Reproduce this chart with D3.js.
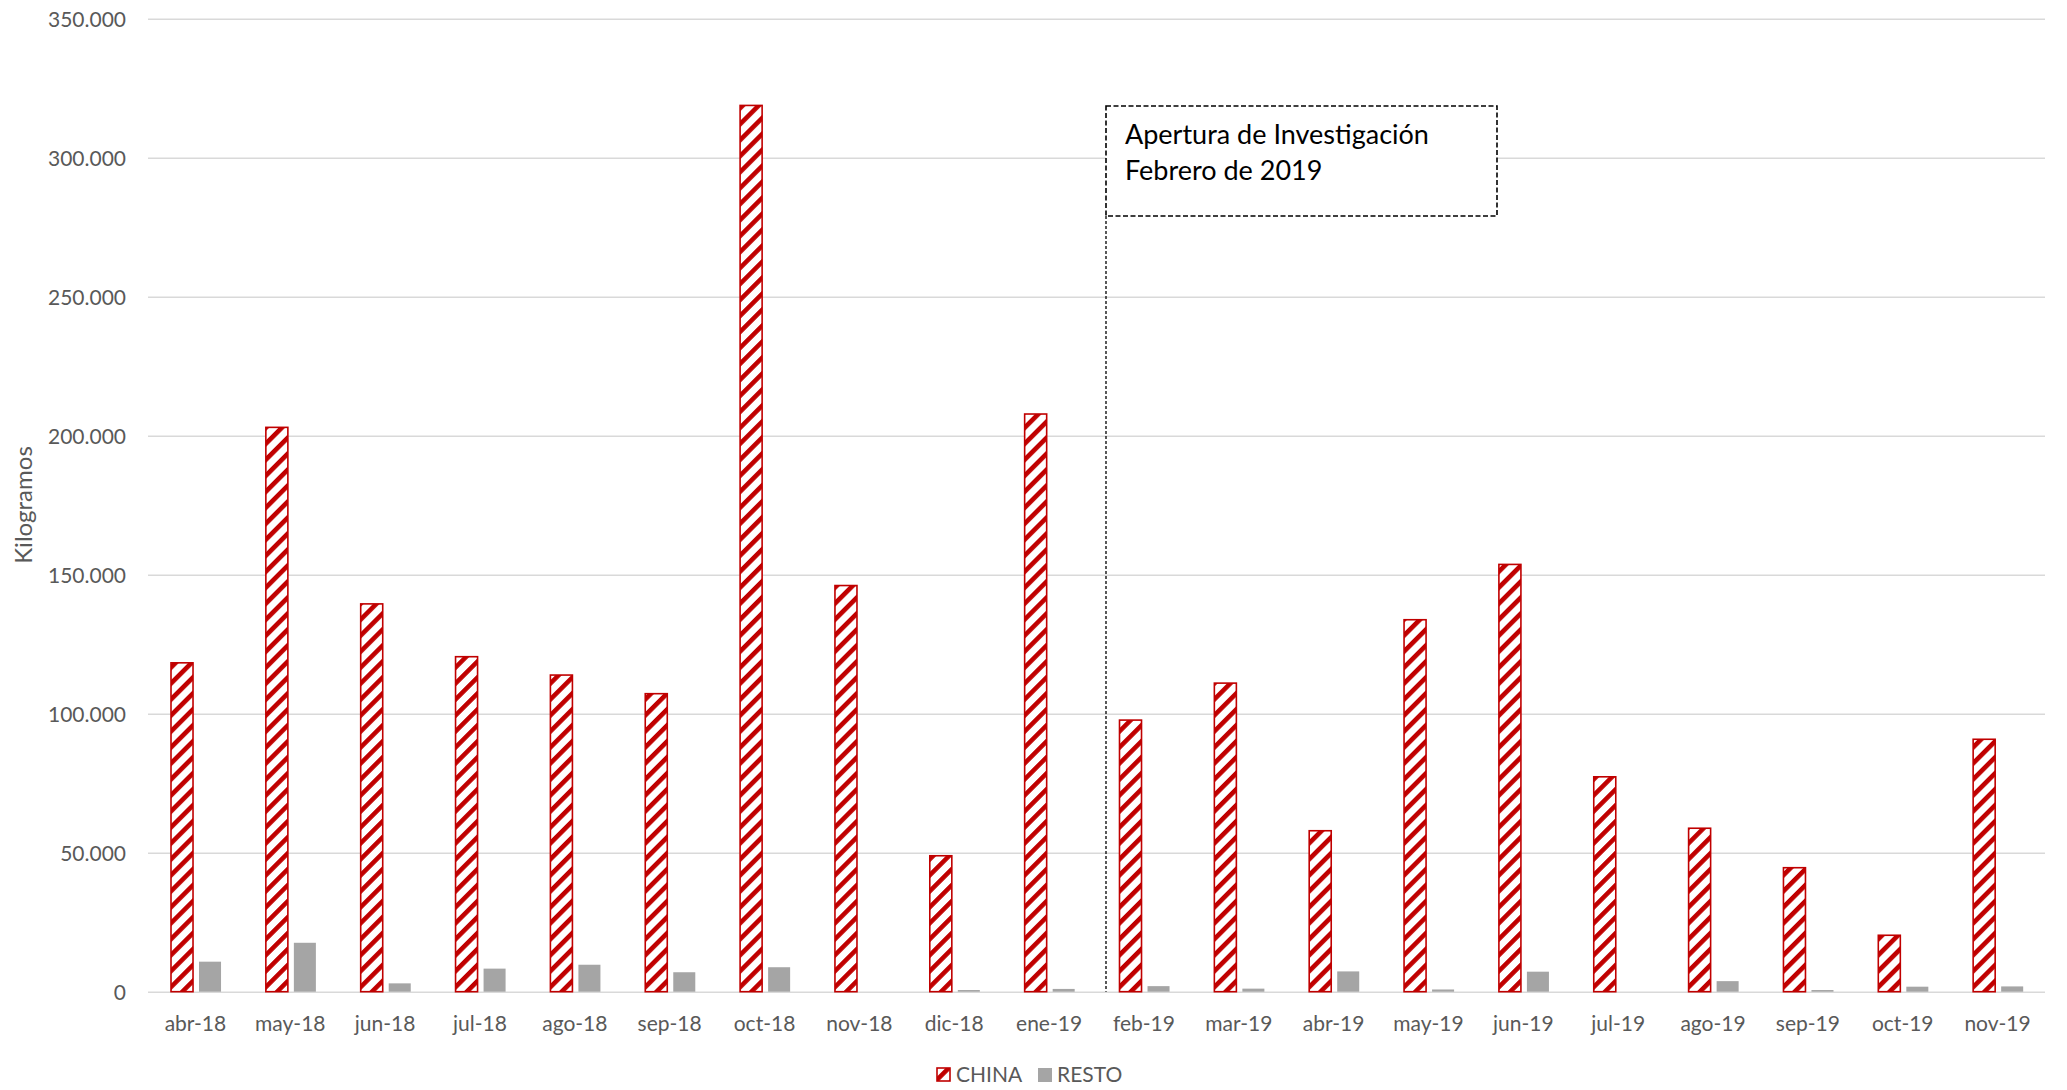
<!DOCTYPE html>
<html>
<head>
<meta charset="utf-8">
<script src="https://cdn.jsdelivr.net/npm/d3@7"></script>
<style>
  html, body { margin: 0; padding: 0; background: #fff; }
  svg { display: block; }
  text { font-family: Lato, "Open Sans", sans-serif; }
</style>
</head>
<body>
<svg id="chart" width="2067" height="1090"></svg>
<script>
const categories = ["abr-18","may-18","jun-18","jul-18","ago-18","sep-18","oct-18","nov-18","dic-18","ene-19",
                    "feb-19","mar-19","abr-19","may-19","jun-19","jul-19","ago-19","sep-19","oct-19","nov-19"];
const china = [118300, 203000, 139500, 120500, 113900, 107200, 318800, 146100, 48900, 207800,
               97700, 111000, 57900, 133800, 153700, 77300, 58800, 44600, 20300, 90800];
const resto = [10800, 17600, 3000, 8300, 9700, 7000, 8800, 0, 600, 1000,
               2000, 1100, 7300, 800, 7200, 0, 3800, 600, 1800, 1900];
const seriesNames = ["CHINA", "RESTO"];
const yTicks = [0, 50000, 100000, 150000, 200000, 250000, 300000, 350000];
const annotationLines = ["Apertura de Investigación", "Febrero de 2019"];

const svg = d3.select("#chart");
const mLeft = 148, mRight = 2045, mTop = 18.7, mBottom = 991.7;

const x = d3.scaleBand().domain(categories).range([mLeft, mRight]).padding(0);
const bw = x.bandwidth();
const x1 = d3.scaleBand().domain(seriesNames).range([bw * 0.2425, bw * 0.77]).paddingInner(0.214).paddingOuter(0);
const y = d3.scaleLinear().domain([0, 350000]).range([mBottom, mTop]);

const loc = d3.formatLocale({decimal: ",", thousands: ".", grouping: [3], currency: ["", ""]});
const fmt = loc.format(",d");

// pattern
const defs = svg.append("defs");
const pat = defs.append("pattern").attr("id", "hatch")
  .attr("patternUnits", "userSpaceOnUse").attr("width", 11.3).attr("height", 11.3)
  .attr("patternTransform", "rotate(45)");
pat.append("rect").attr("width", 11.3).attr("height", 11.3).attr("fill", "#fff");
pat.append("rect").attr("width", 4.6).attr("height", 11.3).attr("fill", "#C00000");

// gridlines
const yAxis = d3.axisLeft(y).tickValues(yTicks).tickFormat(fmt).tickSize(-(mRight - mLeft)).tickPadding(22);
const gy = svg.append("g").attr("transform", `translate(${mLeft},0)`).call(yAxis);
gy.select(".domain").remove();
gy.selectAll(".tick line").attr("stroke", "#D9D9D9").attr("stroke-width", 1.5);
gy.selectAll(".tick text").attr("fill", "#595959").attr("font-size", 21).attr("dy", "0.36em");

// x axis
const xAxis = d3.axisBottom(x).tickSize(0).tickPadding(0);
const gx = svg.append("g").attr("transform", `translate(0,${mBottom})`).call(xAxis);
gx.select(".domain").remove();
gx.selectAll(".tick text").attr("fill", "#595959").attr("font-size", 21).attr("dy", 0).attr("y", 39);

// bars
const groups = svg.append("g").selectAll("g").data(categories).join("g")
  .attr("transform", d => `translate(${x(d)},0)`);
groups.append("rect")
  .attr("x", x1("CHINA")).attr("width", x1.bandwidth())
  .attr("y", (d, i) => y(china[i])).attr("height", (d, i) => y(0) - y(china[i]))
  .attr("fill", "url(#hatch)").attr("stroke", "#C00000").attr("stroke-width", 1.6);
groups.filter((d, i) => resto[i] > 0).append("rect")
  .attr("x", x1("RESTO")).attr("width", x1.bandwidth())
  .attr("y", d => y(resto[categories.indexOf(d)]))
  .attr("height", d => y(0) - y(resto[categories.indexOf(d)]))
  .attr("fill", "#A5A5A5");

// annotation
const annX = x("feb-19") + 9.5;
const annRight = annX + 391;
const annTop = 106, annBottom = 216;
svg.append("line").attr("x1", annX).attr("x2", annX).attr("y1", annBottom).attr("y2", mBottom)
  .attr("stroke", "#000").attr("stroke-width", 1.3).attr("stroke-dasharray", "3,2");
svg.append("rect").attr("x", annX).attr("y", annTop).attr("width", annRight - annX).attr("height", annBottom - annTop)
  .attr("fill", "#fff").attr("stroke", "#000").attr("stroke-width", 1.6).attr("stroke-dasharray", "5,2.5");
svg.append("g").selectAll("text").data(annotationLines).join("text")
  .attr("x", annX + 19).attr("y", (d, i) => 144 + i * 36)
  .attr("font-size", 27).attr("fill", "#000").text(d => d);

// y title
svg.append("text").attr("transform", `translate(32,505) rotate(-90)`).attr("text-anchor", "middle")
  .attr("font-size", 24).attr("fill", "#595959").text("Kilogramos");

// legend
const leg = svg.append("g");
leg.append("rect").attr("x", 937).attr("y", 1068).attr("width", 13).attr("height", 13)
  .attr("fill", "url(#hatch)").attr("stroke", "#C00000").attr("stroke-width", 1.6);
leg.append("text").attr("x", 956).attr("y", 1081.5).attr("font-size", 21).attr("fill", "#595959").text(seriesNames[0]);
leg.append("rect").attr("x", 1038).attr("y", 1068).attr("width", 14).attr("height", 14).attr("fill", "#A5A5A5");
leg.append("text").attr("x", 1057).attr("y", 1081.5).attr("font-size", 21).attr("fill", "#595959").text(seriesNames[1]);
</script>
</body>
</html>
